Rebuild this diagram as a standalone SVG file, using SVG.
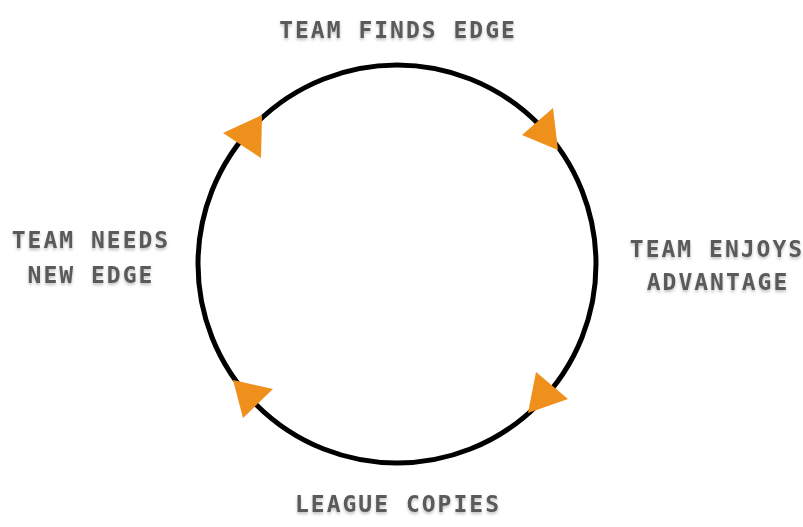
<svg xmlns="http://www.w3.org/2000/svg" width="803" height="527" viewBox="0 0 803 527">
<defs>
<style>
.lbl{font-family:"DejaVu Sans Mono","Liberation Mono",monospace;font-weight:bold;font-size:23px;letter-spacing:2px;fill:#5a5a5a;text-anchor:middle;filter:url(#sh)}
.arr{fill:#EF8F1C}
</style>
<filter id="sh" x="-10%" y="-30%" width="120%" height="170%">
<feDropShadow dx="0" dy="2" stdDeviation="1.5" flood-color="#000" flood-opacity="0.25"/>
</filter>
</defs>
<rect width="803" height="527" fill="#fff"/>
<g id="connectors">
<circle cx="397" cy="264" r="199" fill="none" stroke="#000" stroke-width="5"/>
<polygon class="arr" points="223,133 262,115 261,158"/>
<polygon class="arr" points="522,135 553,108 558,150"/>
<polygon class="arr" points="536,372 568,399 528,413"/>
<polygon class="arr" points="233,380 273,389 243,418"/>
</g>
<g id="n1"><text class="lbl" x="398" y="38">TEAM FINDS EDGE</text></g>
<g id="n2"><text class="lbl" x="717" y="257">TEAM ENJOYS</text><text class="lbl" x="718" y="290">ADVANTAGE</text></g>
<g id="n3"><text class="lbl" x="398" y="512">LEAGUE COPIES</text></g>
<g id="n4"><text class="lbl" x="91" y="248">TEAM NEEDS</text><text class="lbl" x="91" y="283">NEW EDGE</text></g>
</svg>
